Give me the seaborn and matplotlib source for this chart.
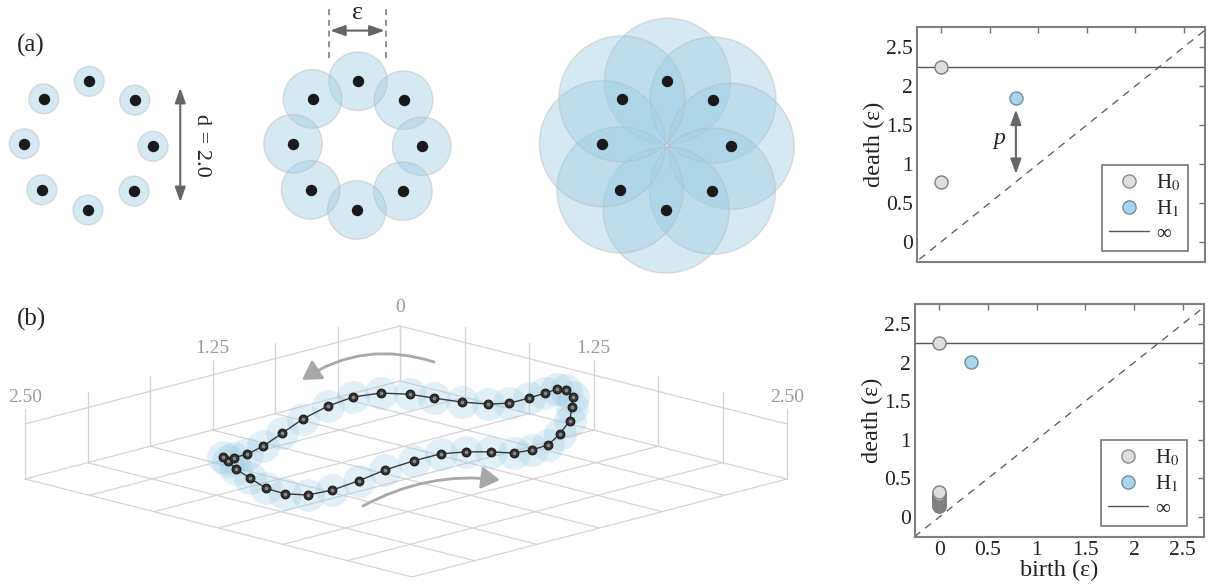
import numpy as np
import matplotlib
matplotlib.use("Agg")
import matplotlib.pyplot as plt
import seaborn as sns
from matplotlib.patches import Circle, FancyArrowPatch
from matplotlib.lines import Line2D

sns.set_style("white")
plt.rcParams["font.family"] = ["Liberation Serif", "DejaVu Serif"]
plt.rcParams["mathtext.fontset"] = "stix"

# (a) ring of 8 points (diameter d = 2.0) and ball radius for 3 snapshots
ring_x = [0.01, 0.71, 0.99, 0.70, -0.01, -0.72, -0.99, -0.69]
ring_y = [0.98, 0.69, -0.02, -0.71, -1.00, -0.69, 0.02, 0.71]
ball_radius = [0.23, 0.45, 0.97]
eps_width = 0.88

# persistence diagrams
pd_ticks = [0, 0.5, 1, 1.5, 2, 2.5]
pd_ticklabels = ["0", "0.5", "1", "1.5", "2", "2.5"]
inf_death = 2.25
pd1_h0_death = [0.77, 2.25]
pd1_h1_birth = [0.77]
pd1_h1_death = [1.85]
pd1_arrow = [0.77, 1.70, 0.87]   # x, top, bottom of the persistence arrow
pd2_h0_death = [0.14, 0.145, 0.15, 0.155, 0.16, 0.165, 0.17, 0.175, 0.18,
                0.185, 0.19, 0.195, 0.20, 0.205, 0.21, 0.215, 0.22, 0.225,
                0.23, 0.235, 0.24, 0.245, 0.25, 0.26, 0.27, 0.28, 0.29,
                0.30, 0.32, 2.25]
pd2_h1_birth = [0.33]
pd2_h1_death = [2.01]

# (b) sampled loop, floor coordinates (a along left edge, b along right edge)
loop_a = [1.38, 1.13, 0.93, 0.79, 0.71, 0.68, 0.64, 0.58, 0.50, 0.37,
          0.25, 0.16, 0.14, 0.21, 0.34, 0.53, 0.73, 0.91, 1.03, 1.13,
          1.19, 1.27, 1.38, 1.56, 1.77, 2.00, 2.21, 2.35, 2.41, 2.40,
          2.32, 2.25, 2.17, 2.14, 2.11, 2.02, 1.86, 1.63]
loop_b = [0.71, 0.63, 0.60, 0.64, 0.75, 0.88, 1.02, 1.13, 1.19, 1.19,
          1.18, 1.17, 1.21, 1.32, 1.44, 1.61, 1.74, 1.84, 1.85, 1.83,
          1.74, 1.66, 1.60, 1.60, 1.62, 1.67, 1.70, 1.68, 1.59, 1.46,
          1.28, 1.12, 0.99, 0.93, 0.97, 0.97, 0.92, 0.82]
loop_z = 2.0
grid_ticks = np.linspace(0, 2.5, 7)
grid_labels = {0.0: "0", 1.25: "1.25", 2.5: "2.50"}

W, H = 1211, 587
fig = plt.figure(figsize=(W / 100, H / 100), dpi=100)

ball_face = (156 / 255, 204 / 255, 228 / 255, 0.42)
ball_edge = (0.72, 0.72, 0.72, 0.45)


def cloud_axes(cx, cy, half_w=2.1, y_lo=-2.1, y_hi=2.3, scale=65):
    rect = [(cx - half_w * scale) / W, 1 - (cy - y_lo * scale) / H,
            2 * half_w * scale / W, (y_hi - y_lo) * scale / H]
    ax = fig.add_axes(rect)
    ax.set_xlim(-half_w, half_w)
    ax.set_ylim(y_lo, y_hi)
    ax.axis("off")
    ax.patch.set_alpha(0)
    return ax


centers = [(88.6, 145), (357.4, 145), (666.8, 145)]
cloud_axs = []
for (cx, cy), r in zip(centers, ball_radius):
    ax = cloud_axes(cx, cy)
    for x, y in zip(ring_x, ring_y):
        ax.add_patch(Circle((x, y), r, fc=ball_face, ec=ball_edge, lw=1.0))
    ax.plot(ring_x, ring_y, "o", ms=7.2, color="#1a1a1a", zorder=5)
    cloud_axs.append(ax)

dim_arrow = dict(arrowstyle="<|-|>,head_length=0.9,head_width=0.32",
                 mutation_scale=10, color="#666666", lw=1.5, shrinkA=0, shrinkB=0)

# d = 2.0 arrow
ax = cloud_axs[0]
ax.add_patch(FancyArrowPatch((1.41, -0.88), (1.41, 0.88), **dim_arrow))
ax.text(1.73, 0, "d = 2.0", rotation=270, ha="center", va="center", fontsize=16)

# epsilon dimension
ax = cloud_axs[1]
for sx in (-eps_width / 2, eps_width / 2):
    ax.plot([sx, sx], [1.34, 2.15], ls=(0, (4, 3)), color="#777777", lw=1.1)
ax.add_patch(FancyArrowPatch((-eps_width / 2 + 0.02, 1.76), (eps_width / 2 - 0.02, 1.76), **dim_arrow))
ax.text(0, 2.03, "ε", ha="center", va="center", fontsize=19)

fig.text(17 / W, 1 - 45 / H, "(a)", ha="left", va="center", fontsize=18)
fig.text(17 / W, 1 - 319 / H, "(b)", ha="left", va="center", fontsize=18)

# (b) 3d-like loop on a gridded box
axb = fig.add_axes([0, 0, 820 / W, 297 / H])
axb.set_xlim(0, 820)
axb.set_ylim(587, 290)
axb.axis("off")
axb.patch.set_alpha(0)


def proj(a, b, z=0.0):
    a = np.asarray(a, float)
    b = np.asarray(b, float)
    z = np.asarray(z, float)
    return 400 - 150 * a + 154.8 * b, 381 + 39.2 * (a + b) - 22 * z


gcol = "#d4d4d4"
for t in grid_ticks:
    axb.plot(*proj([t, t], [0, 2.5]), color=gcol, lw=0.9, zorder=1)
    axb.plot(*proj([0, 2.5], [t, t]), color=gcol, lw=0.9, zorder=1)
    z_top = 2.5 if t == 0 else 3.2
    axb.plot(*proj([t, t], [0, 0], [0, z_top]), color=gcol, lw=0.9, zorder=1)
    axb.plot(*proj([0, 0], [t, t], [0, z_top]), color=gcol, lw=0.9, zorder=1)
axb.plot(*proj([0, 2.5], [0, 0], [2.5, 2.5]), color=gcol, lw=0.9, zorder=1)
axb.plot(*proj([0, 0], [0, 2.5], [2.5, 2.5]), color=gcol, lw=0.9, zorder=1)

for t, lab in grid_labels.items():
    if t == 0:
        u, v = proj(0, 0, 2.5)
        axb.text(u, v - 10, lab, ha="center", va="bottom", fontsize=14, color="#9a9a9a")
        continue
    for a, b in ((t, 0), (0, t)):
        u, v = proj(a, b, 3.2)
        axb.text(u, v - 3, lab, ha="center", va="bottom", fontsize=14, color="#9a9a9a")

lu, lv = proj(loop_a, loop_b, loop_z)
axb.scatter(lu, lv, s=560, color="#9ccce4", alpha=0.3, linewidths=0, zorder=2)
axb.plot(np.append(lu, lu[0]), np.append(lv, lv[0]), color="#3a3a3a", lw=1.0, zorder=3)
axb.plot(lu, lv, "o", ms=6.3, mfc="#333333", mec="#1a1a1a", mew=0.8, zorder=4)
axb.plot(lu, lv, "o", ms=1.6, color="#8a8a8a", zorder=5)

arrow_kw = dict(arrowstyle="-|>,head_length=0.75,head_width=0.45", mutation_scale=15,
                color="#a8a8a8", lw=2.0, shrinkA=0, shrinkB=0, zorder=6)
axb.add_patch(FancyArrowPatch((434, 362), (302, 380), connectionstyle="arc3,rad=0.24", **arrow_kw))
axb.add_patch(FancyArrowPatch((363, 506), (500, 480), connectionstyle="arc3,rad=-0.16", **arrow_kw))


# persistence diagrams
def persistence_axes(rect, h0_death, h1_birth, h1_death, show_x):
    ax = fig.add_axes(rect)
    ax.set_xlim(-0.25, 2.72)
    ax.set_ylim(-0.26, 2.76)
    ax.plot([-1, 3], [-1, 3], ls=(0, (6, 5)), color="#555555", lw=0.9, zorder=1)
    ax.axhline(inf_death, color="#555555", lw=1.0, zorder=1)
    sns.scatterplot(x=[0] * len(h0_death), y=h0_death, ax=ax, s=88, color="#dedede",
                    edgecolor="#808080", linewidth=1.0, zorder=3)
    sns.scatterplot(x=h1_birth, y=h1_death, ax=ax, s=88, color="#a8d5eb",
                    edgecolor="#6f8f9f", linewidth=1.0, zorder=3)
    ax.set_xticks(pd_ticks)
    ax.set_yticks(pd_ticks)
    ax.set_xticklabels(pd_ticklabels)
    ax.set_yticklabels(pd_ticklabels)
    ax.tick_params(direction="in", top=True, right=True, length=4, width=1,
                   color="#777777", labelcolor="#222222", labelsize=15.5,
                   labelbottom=show_x, pad=3)
    for sp in ax.spines.values():
        sp.set_color("#7f7f7f")
        sp.set_linewidth(1.5)
    ax.set_ylabel("death (ε)", fontsize=17.5, labelpad=1, color="#222222")
    if show_x:
        ax.set_xlabel("birth (ε)", fontsize=17.5, labelpad=0, color="#222222")
    handles = [Line2D([], [], marker="o", ls="", ms=9.5, mfc="#dedede", mec="#8c8c8c"),
               Line2D([], [], marker="o", ls="", ms=9.5, mfc="#a8d5eb", mec="#6f8f9f"),
               Line2D([], [], color="#555555", lw=1.0)]
    leg = ax.legend(handles, [r"H$_0$", r"H$_1$", "∞"], loc="lower right",
                    bbox_to_anchor=(0.941, 0.047), borderaxespad=0, fontsize=15,
                    frameon=True, fancybox=False, edgecolor="#777777", framealpha=1,
                    handlelength=1.9, handletextpad=0.35, labelspacing=0.25,
                    borderpad=0.35)
    leg.get_frame().set_linewidth(1.2)
    return ax


ax1 = persistence_axes([917 / W, 1 - 262 / H, 288 / W, 235 / H],
                       pd1_h0_death, pd1_h1_birth, pd1_h1_death, False)
ax1.add_patch(FancyArrowPatch((pd1_arrow[0], pd1_arrow[2]), (pd1_arrow[0], pd1_arrow[1]),
                              zorder=4, **dim_arrow))
ax1.text(0.6, 1.33, "p", style="italic", fontsize=17, ha="center", va="center")

ax2 = persistence_axes([915 / W, 1 - 537 / H, 289 / W, 233 / H],
                       pd2_h0_death, pd2_h1_birth, pd2_h1_death, True)

fig.savefig("out.png", dpi=100)
